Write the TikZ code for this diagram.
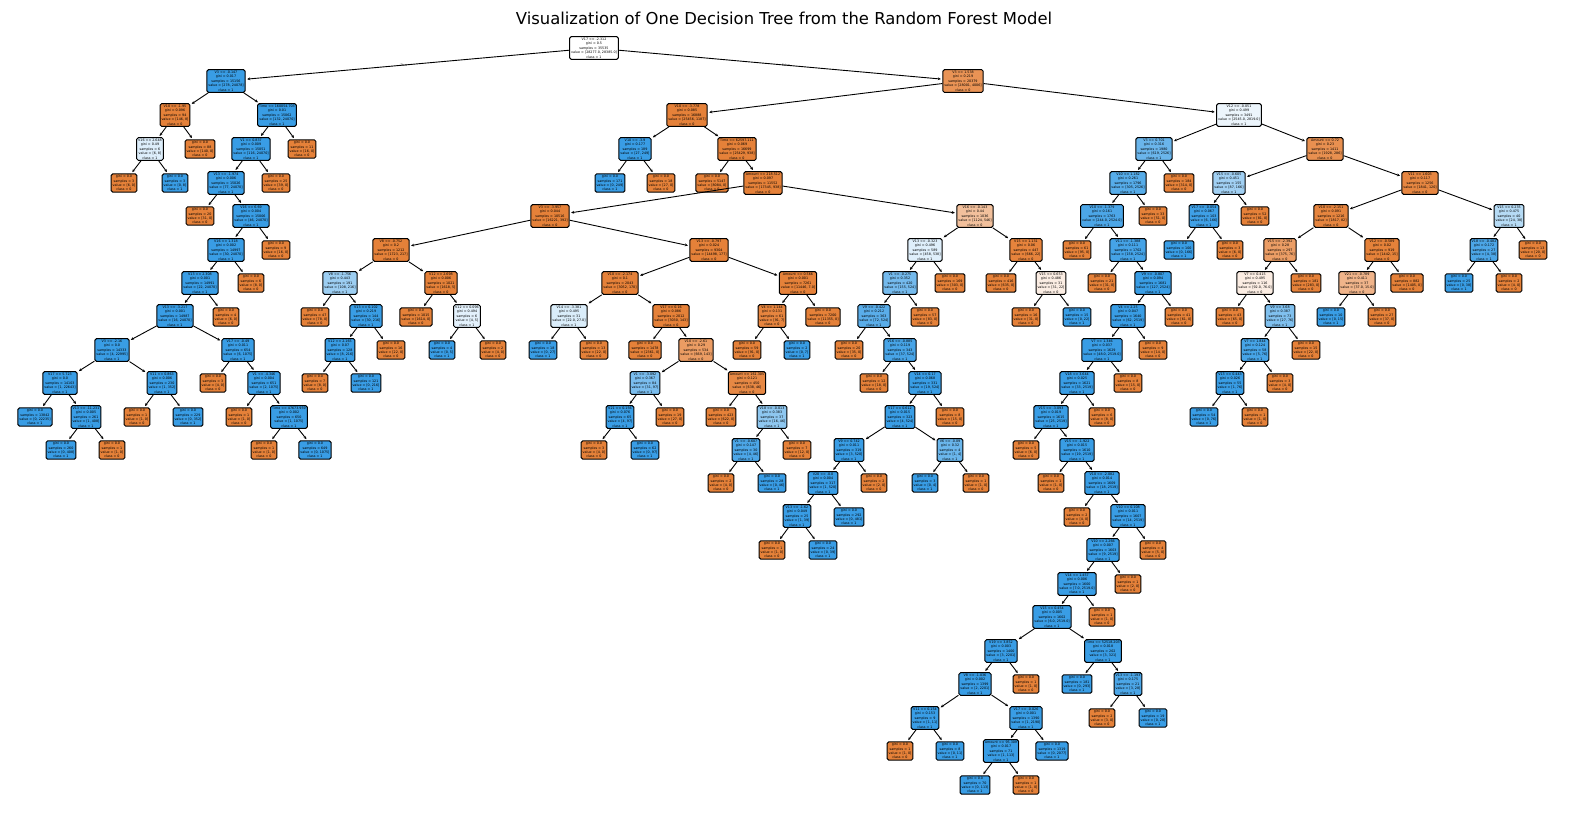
\documentclass[tikz,border=0pt]{standalone}
\usepackage{fontspec}
\usetikzlibrary{arrows.meta}
\newfontfamily\djv{DejaVu Sans}
\newcommand{\boxfont}{\djv\fontsize{3.3}{4.4}\selectfont}
\newcommand{\titlefont}{\djv\fontsize{16.4}{19}\selectfont}
\newcommand{\lv}[3]{gini = 0.0\\samples = #1\\value = [#2]\\class = #3}
\definecolor{c0}{HTML}{E58139}
\definecolor{c1}{HTML}{399DE5}
\tikzset{
  nd/.style={draw=black, line width=1pt, rounded corners=1.6pt, align=center,
    inner xsep=1.5pt, inner ysep=1.3pt, font=\boxfont, text=black},
  hx/.code={\definecolor{h#1}{HTML}{#1}\pgfkeysalso{fill=h#1}},
  edge/.style={-{Stealth[length=3pt,width=2.8pt]}, line width=0.9pt, shorten >=1.5pt},
  elab/.style={font=\boxfont, text=black!70}
}
\begin{document}
\begin{tikzpicture}[x=1pt,y=-1pt]
\useasboundingbox (0,0) rectangle (1570,812);
\node[font=\titlefont] (title) at (784,18) {Visualization of One Decision Tree from the Random Forest Model};

% root
\node[nd,fill=white] (r) at (594,48) {V17 <= -2.312\\gini = 0.5\\samples = 35535\\value = [28277.0, 28385.0]\\class = 1};
\node[elab] (tl) at (404,65) {True};
\node[elab] (fl) at (786,65) {False};

% level 1
\node[nd,fill=c1] (a) at (226,81) {V3 <= -0.147\\gini = 0.017\\samples = 15156\\value = [278, 24078]\\class = 1};
\node[nd,hx=E99355] (b) at (963,81) {V3 <= 1.538\\gini = 0.219\\samples = 20379\\value = [28001, 4006]\\class = 0};

% left subtree
\node[nd,fill=c0] (a1) at (175,115) {V10 <= -1.95\\gini = 0.096\\samples = 94\\value = [146, 8]\\class = 0};
\node[nd,hx=DDEEFB] (a11) at (150,149) {V16 <= 2.648\\gini = 0.49\\samples = 6\\value = [6, 8]\\class = 1};
\node[nd,fill=c0] (a111) at (124,183) {\lv{3}{6, 0}{0}};
\node[nd,fill=c1] (a112) at (175,183) {\lv{3}{0, 8}{1}};
\node[nd,fill=c0] (a12) at (200,149) {\lv{88}{140, 0}{0}};
\node[nd,fill=c1] (a2) at (277,115) {Time <= 160054.703\\gini = 0.01\\samples = 15062\\value = [132, 24070]\\class = 1};
\node[nd,fill=c1] (a21) at (251,149) {V1 <= 0.837\\gini = 0.009\\samples = 15051\\value = [116, 24070]\\class = 1};
\node[nd,fill=c0] (a22) at (302,149) {\lv{11}{16, 0}{0}};
\node[nd,fill=c1] (a211) at (226,183) {V13 <= -1.974\\gini = 0.006\\samples = 15026\\value = [77, 24070]\\class = 1};
\node[nd,fill=c0] (a212) at (276,183) {\lv{25}{39, 0}{0}};
\node[nd,fill=c0] (a2111) at (200,216) {\lv{20}{31, 0}{0}};
\node[nd,fill=c1] (a2112) at (251,216) {V16 <= 6.69\\gini = 0.004\\samples = 15006\\value = [46, 24070]\\class = 1};
\node[nd,fill=c1] (a3) at (226,250) {V16 <= 1.318\\gini = 0.002\\samples = 14997\\value = [30, 24070]\\class = 1};
\node[nd,fill=c0] (a3r) at (276,250) {\lv{9}{16, 0}{0}};
\node[nd,fill=c1] (a4) at (200,283) {V13 <= 2.308\\gini = 0.001\\samples = 14991\\value = [22, 24070]\\class = 1};
\node[nd,fill=c0] (a4r) at (251,283) {\lv{6}{8, 0}{0}};
\node[nd,fill=c1] (a5) at (175,316) {V13 <= -3.217\\gini = 0.001\\samples = 14987\\value = [16, 24070]\\class = 1};
\node[nd,fill=c0] (a5r) at (226,317) {\lv{4}{6, 0}{0}};
\node[nd,fill=c1] (a6) at (112,350) {V3 <= -2.16\\gini = 0.0\\samples = 14333\\value = [4, 22995]\\class = 1};
\node[nd,fill=c1] (a7) at (238,350) {V17 <= -0.49\\gini = 0.011\\samples = 654\\value = [6, 1075]\\class = 1};
\node[nd,fill=c1] (a61) at (60,383) {V17 <= 5.723\\gini = 0.0\\samples = 14103\\value = [1, 22643]\\class = 1};
\node[nd,fill=c1] (a62) at (162,383) {V11 <= 0.863\\gini = 0.006\\samples = 230\\value = [1, 352]\\class = 1};
\node[nd,fill=c1] (a611) at (35,417) {\lv{13842}{0, 22235}{1}};
\node[nd,fill=c1] (a612) at (86,417) {V13 <= -11.231\\gini = 0.005\\samples = 261\\value = [1, 408]\\class = 1};
\node[nd,fill=c1] (a6121) at (61,450) {\lv{260}{0, 408}{1}};
\node[nd,fill=c0] (a6122) at (112,450) {\lv{1}{1, 0}{0}};
\node[nd,fill=c0] (a621) at (137,417) {\lv{1}{1, 0}{0}};
\node[nd,fill=c1] (a622) at (188,417) {\lv{229}{0, 352}{1}};
\node[nd,fill=c0] (a71) at (213,383) {\lv{3}{4, 0}{0}};
\node[nd,fill=c1] (a72) at (264,383) {V1 <= -4.346\\gini = 0.004\\samples = 651\\value = [2, 1075]\\class = 1};
\node[nd,fill=c0] (a721) at (239,417) {\lv{1}{1, 0}{0}};
\node[nd,fill=c1] (a722) at (289,417) {Time <= 47673.959\\gini = 0.002\\samples = 650\\value = [1, 1075]\\class = 1};
\node[nd,fill=c0] (a7221) at (264,450) {\lv{1}{1, 0}{0}};
\node[nd,fill=c1] (a7222) at (315,450) {\lv{649}{0, 1075}{1}};

% right subtree
\node[nd,fill=c0] (g) at (687,115) {V10 <= -3.778\\gini = 0.085\\samples = 16888\\value = [25456, 1187]\\class = 0};
\node[nd,hx=ECF5FC] (h) at (1239,115) {V12 <= -0.051\\gini = 0.499\\samples = 3491\\value = [2545.0, 2819.0]\\class = 1};
\node[nd,fill=c1] (g1) at (635,149) {V10 <= -3.9\\gini = 0.177\\samples = 189\\value = [27, 249]\\class = 1};
\node[nd,fill=c1] (g11) at (610,183) {\lv{171}{0, 249}{1}};
\node[nd,fill=c0] (g12) at (661,183) {\lv{18}{27, 0}{0}};
\node[nd,fill=c0] (g2) at (737,149) {Time <= 62597.111\\gini = 0.069\\samples = 16699\\value = [25429, 938]\\class = 0};
\node[nd,fill=c0] (g21) at (712,183) {\lv{5147}{8084, 0}{0}};
\node[nd,fill=c0] (g22) at (763,183) {Amount <= 218.512\\gini = 0.097\\samples = 11552\\value = [17345, 938]\\class = 0};
\node[nd,fill=c0] (i) at (550,216) {V3 <= -3.957\\gini = 0.044\\samples = 10516\\value = [16221, 392]\\class = 0};
\node[nd,hx=F2C09C] (j) at (975,216) {V16 <= -0.143\\gini = 0.44\\samples = 1036\\value = [1124, 546]\\class = 0};
\node[nd,fill=c0] (i1) at (391,250) {V8 <= -0.752\\gini = 0.2\\samples = 1212\\value = [1723, 217]\\class = 0};
\node[nd,hx=9CCEF2] (i11) at (340,283) {V8 <= -1.756\\gini = 0.443\\samples = 191\\value = [108, 216]\\class = 1};
\node[nd,fill=c0] (i111) at (315,317) {\lv{47}{78, 0}{0}};
\node[nd,fill=c1] (i112) at (366,316) {V13 <= 0.102\\gini = 0.219\\samples = 144\\value = [30, 216]\\class = 1};
\node[nd,fill=c1] (i1121) at (340,350) {V12 <= 2.165\\gini = 0.07\\samples = 128\\value = [8, 216]\\class = 1};
\node[nd,fill=c0] (i1122) at (391,350) {\lv{16}{22, 0}{0}};
\node[nd,fill=c0] (i11211) at (315,383) {\lv{7}{8, 0}{0}};
\node[nd,fill=c1] (i11212) at (366,383) {\lv{121}{0, 216}{1}};
\node[nd,fill=c0] (i12) at (441,283) {V12 <= 2.698\\gini = 0.006\\samples = 1021\\value = [1618, 5]\\class = 0};
\node[nd,fill=c0] (i121) at (416,317) {\lv{1015}{1614, 0}{0}};
\node[nd,hx=E3F1FC] (i122) at (467,316) {V12 <= 0.096\\gini = 0.494\\samples = 6\\value = [4, 5]\\class = 1};
\node[nd,fill=c1] (i1221) at (442,350) {\lv{4}{0, 5}{1}};
\node[nd,fill=c0] (i1222) at (493,350) {\lv{2}{4, 0}{0}};
\node[nd,fill=c0] (i2) at (709,250) {V13 <= -0.797\\gini = 0.024\\samples = 9304\\value = [14498, 177]\\class = 0};
\node[nd,fill=c0] (i21) at (620,283) {V10 <= -2.174\\gini = 0.1\\samples = 2043\\value = [3052, 170]\\class = 0};
\node[nd,hx=DAEDFA] (i211) at (569,316) {V14 <= -3.381\\gini = 0.495\\samples = 31\\value = [22.0, 27.0]\\class = 1};
\node[nd,fill=c1] (i2111) at (543,350) {\lv{18}{0, 27}{1}};
\node[nd,fill=c0] (i2112) at (594,350) {\lv{13}{22, 0}{0}};
\node[nd,fill=c0] (i212) at (671,316) {V17 <= 0.16\\gini = 0.086\\samples = 2012\\value = [3030, 143]\\class = 0};
\node[nd,fill=c0] (i2121) at (645,350) {\lv{1478}{2361, 0}{0}};
\node[nd,hx=EB9C63] (i2122) at (696,350) {V10 <= -2.61\\gini = 0.29\\samples = 534\\value = [669, 143]\\class = 0};
\node[nd,hx=7ABDEE] (k) at (645,383) {V1 <= -3.092\\gini = 0.367\\samples = 84\\value = [31, 97]\\class = 1};
\node[nd,fill=c1] (k1) at (620,417) {V21 <= 0.156\\gini = 0.076\\samples = 65\\value = [4, 97]\\class = 1};
\node[nd,fill=c0] (k11) at (594,450) {\lv{3}{4, 0}{0}};
\node[nd,fill=c1] (k12) at (645,450) {\lv{62}{0, 97}{1}};
\node[nd,fill=c0] (k2) at (670,417) {\lv{19}{27, 0}{0}};
\node[nd,hx=E68844] (l) at (747,383) {Amount <= 161.305\\gini = 0.121\\samples = 450\\value = [638, 46]\\class = 0};
\node[nd,fill=c0] (l1) at (721,417) {\lv{423}{622, 0}{0}};
\node[nd,hx=8EC7F0] (l2) at (772,417) {V18 <= -0.013\\gini = 0.383\\samples = 37\\value = [16, 46]\\class = 1};
\node[nd,hx=4CA6E7] (l21) at (746,450) {V1 <= -0.607\\gini = 0.147\\samples = 30\\value = [4, 46]\\class = 1};
\node[nd,fill=c0] (l211) at (721,483) {\lv{2}{4, 0}{0}};
\node[nd,fill=c1] (l212) at (772,483) {\lv{28}{0, 46}{1}};
\node[nd,fill=c0] (l22) at (797,450) {\lv{7}{12, 0}{0}};
\node[nd,fill=c0] (i22) at (798,283) {Amount <= 0.566\\gini = 0.001\\samples = 7261\\value = [11446, 7.0]\\class = 0};
\node[nd,hx=E6853F] (i221) at (772,316) {V4 <= 1.144\\gini = 0.131\\samples = 61\\value = [91, 7]\\class = 0};
\node[nd,fill=c0] (i2211) at (747,350) {\lv{59}{91, 0}{0}};
\node[nd,fill=c1] (i2212) at (797,350) {\lv{2}{0, 7}{1}};
\node[nd,fill=c0] (i222) at (823,317) {\lv{7200}{11355, 0}{0}};

\node[nd,hx=DFEFFB] (j1) at (925,250) {V13 <= -0.323\\gini = 0.496\\samples = 589\\value = [458, 538]\\class = 1};
\node[nd,hx=74BAED] (j11) at (900,283) {V1 <= -0.275\\gini = 0.352\\samples = 420\\value = [155, 524]\\class = 1};
\node[nd,hx=5AADE9] (j111) at (874,316) {V9 <= -0.422\\gini = 0.212\\samples = 363\\value = [72, 524]\\class = 1};
\node[nd,fill=c0] (j1111) at (849,350) {\lv{20}{35, 0}{0}};
\node[nd,hx=47A4E7] (j1112) at (900,350) {V16 <= -0.885\\gini = 0.119\\samples = 343\\value = [37, 524]\\class = 1};
\node[nd,fill=c0] (j11121) at (874,383) {\lv{12}{18, 0}{0}};
\node[nd,fill=c1] (j11122) at (925,383) {V14 <= 0.17\\gini = 0.068\\samples = 331\\value = [19, 524]\\class = 1};
\node[nd,fill=c1] (m) at (900,417) {V17 <= 0.612\\gini = 0.015\\samples = 323\\value = [4, 524]\\class = 1};
\node[nd,fill=c1] (m1) at (849,450) {V9 <= 0.742\\gini = 0.011\\samples = 319\\value = [3, 520]\\class = 1};
\node[nd,fill=c1] (m11) at (823,483) {V20 <= -0.0\\gini = 0.004\\samples = 317\\value = [1, 520]\\class = 1};
\node[nd,fill=c1] (m111) at (797,516) {V13 <= -1.62\\gini = 0.049\\samples = 25\\value = [1, 39]\\class = 1};
\node[nd,fill=c0] (m1111) at (772,550) {\lv{1}{1, 0}{0}};
\node[nd,fill=c1] (m1112) at (823,550) {\lv{24}{0, 39}{1}};
\node[nd,fill=c1] (m112) at (849,517) {\lv{292}{0, 481}{1}};
\node[nd,fill=c0] (m12) at (874,483) {\lv{2}{2, 0}{0}};
\node[nd,hx=6AB6EC] (m2) at (950,450) {V6 <= -0.09\\gini = 0.32\\samples = 4\\value = [1, 4]\\class = 1};
\node[nd,fill=c1] (m21) at (925,483) {\lv{3}{0, 4}{1}};
\node[nd,fill=c0] (m22) at (976,483) {\lv{1}{1, 0}{0}};
\node[nd,fill=c0] (j11123) at (950,417) {\lv{8}{15, 0}{0}};
\node[nd,fill=c0] (j112) at (925,317) {\lv{57}{83, 0}{0}};
\node[nd,fill=c0] (j12) at (950,283) {\lv{169}{303, 0}{0}};
\node[nd,hx=E6833C] (j2) at (1026,250) {V15 <= 1.131\\gini = 0.06\\samples = 447\\value = [666, 22]\\class = 0};
\node[nd,fill=c0] (j21) at (1001,283) {\lv{416}{635, 0}{0}};
\node[nd,hx=FBEDE3] (j22) at (1051,283) {V15 <= 0.653\\gini = 0.486\\samples = 31\\value = [31, 22]\\class = 0};
\node[nd,fill=c0] (j221) at (1026,317) {\lv{16}{31, 0}{0}};
\node[nd,fill=c1] (j222) at (1077,317) {\lv{15}{0, 22}{1}};

% H subtree
\node[nd,hx=6AB5EB] (n) at (1154,149) {V3 <= 0.701\\gini = 0.316\\samples = 1980\\value = [619, 2526]\\class = 1};
\node[nd,fill=c0] (n2) at (1179,183) {\lv{184}{314, 0}{0}};
\node[nd,hx=56ACE9] (n1) at (1128,183) {V10 <= 1.182\\gini = 0.261\\samples = 1796\\value = [305, 2526]\\class = 1};
\node[nd,hx=4CA6E7] (n1a) at (1102,216) {V10 <= -1.379\\gini = 0.161\\samples = 1763\\value = [244.0, 2524.0]\\class = 1};
\node[nd,fill=c0] (n1b) at (1153,216) {\lv{33}{51, 0}{0}};
\node[nd,fill=c0] (n1a1) at (1077,250) {\lv{61}{95, 0}{0}};
\node[nd,hx=45A3E7] (n1a2) at (1128,250) {V11 <= -1.388\\gini = 0.111\\samples = 1702\\value = [158, 2524]\\class = 1};
\node[nd,fill=c0] (n1a21) at (1102,283) {\lv{21}{31, 0}{0}};
\node[nd,fill=c1] (n1a22) at (1153,283) {V9 <= -0.807\\gini = 0.094\\samples = 1681\\value = [127, 2524]\\class = 1};
\node[nd,fill=c1] (n1a221) at (1128,316) {V4 <= 2.25\\gini = 0.047\\samples = 1640\\value = [62, 2519]\\class = 1};
\node[nd,fill=c0] (n1a222) at (1179,317) {\lv{41}{61, 0}{0}};
\node[nd,fill=c1] (p) at (1102,350) {V7 <= 1.346\\gini = 0.037\\samples = 1629\\value = [48.0, 2519.0]\\class = 1};
\node[nd,fill=c0] (p2) at (1153,350) {\lv{9}{14, 0}{0}};
\node[nd,fill=c1] (q) at (1077,383) {V18 <= 3.644\\gini = 0.025\\samples = 1621\\value = [33, 2519]\\class = 1};
\node[nd,fill=c0] (q2) at (1128,383) {\lv{8}{15, 0}{0}};
\node[nd,fill=c1] (rr) at (1051,417) {V15 <= -3.093\\gini = 0.019\\samples = 1615\\value = [25, 2519]\\class = 1};
\node[nd,fill=c0] (rr2) at (1102,417) {\lv{6}{8, 0}{0}};
\node[nd,fill=c0] (s1) at (1026,450) {\lv{5}{6, 0}{0}};
\node[nd,fill=c1] (s) at (1077,450) {V15 <= -1.922\\gini = 0.015\\samples = 1610\\value = [19, 2519]\\class = 1};
\node[nd,fill=c0] (t1) at (1051,483) {\lv{1}{1, 0}{0}};
\node[nd,fill=c1] (t) at (1102,483) {V10 <= -2.082\\gini = 0.014\\samples = 1609\\value = [18, 2519]\\class = 1};
\node[nd,fill=c0] (u1x) at (1077,517) {\lv{2}{4, 0}{0}};
\node[nd,fill=c1] (u) at (1128,516) {V10 <= 0.108\\gini = 0.011\\samples = 1607\\value = [14, 2519]\\class = 1};
\node[nd,fill=c1] (u1) at (1103,550) {V10 <= 2.266\\gini = 0.007\\samples = 1603\\value = [9, 2519]\\class = 1};
\node[nd,fill=c0] (u2) at (1153,550) {\lv{4}{5, 0}{0}};
\node[nd,fill=c1] (u1a) at (1077,584) {V14 <= 1.457\\gini = 0.006\\samples = 1600\\value = [7.0, 2519.0]\\class = 1};
\node[nd,fill=c0] (u1b) at (1128,584) {\lv{1}{2, 0}{0}};
\node[nd,fill=c1] (u1a1) at (1052,617) {V15 <= 0.454\\gini = 0.005\\samples = 1602\\value = [6.0, 2519.0]\\class = 1};
\node[nd,fill=c0] (u1a2) at (1102,617) {\lv{1}{1, 0}{0}};
\node[nd,fill=c1] (v) at (1001,651) {V19 <= 3.852\\gini = 0.003\\samples = 1400\\value = [3, 2201]\\class = 1};
\node[nd,fill=c1] (w) at (1103,651) {Time <= 52518.203\\gini = 0.018\\samples = 202\\value = [3, 321]\\class = 1};
\node[nd,fill=c1] (v1) at (975,684) {V8 <= -1.036\\gini = 0.002\\samples = 1399\\value = [2, 2201]\\class = 1};
\node[nd,fill=c0] (v2) at (1026,684) {\lv{1}{1, 0}{0}};
\node[nd,fill=c1] (v1a) at (925,718) {V11 <= 0.154\\gini = 0.153\\samples = 9\\value = [1, 11]\\class = 1};
\node[nd,fill=c1] (v1b) at (1026,718) {V17 <= -0.026\\gini = 0.001\\samples = 1390\\value = [1, 2190]\\class = 1};
\node[nd,fill=c0] (v1a1) at (900,751) {\lv{1}{1, 0}{0}};
\node[nd,fill=c1] (v1a2) at (950,751) {\lv{8}{0, 11}{1}};
\node[nd,fill=c1] (v1b1) at (1001,751) {Amount <= 95.309\\gini = 0.017\\samples = 71\\value = [1, 113]\\class = 1};
\node[nd,fill=c1] (v1b2) at (1052,751) {\lv{1319}{0, 2077}{1}};
\node[nd,fill=c1] (v1b11) at (975,785) {\lv{70}{0, 113}{1}};
\node[nd,fill=c0] (v1b12) at (1026,785) {\lv{1}{1, 0}{0}};
\node[nd,fill=c1] (w1) at (1077,684) {\lv{181}{0, 293}{1}};
\node[nd,hx=4CA6E7] (w2) at (1128,684) {V13 <= -1.193\\gini = 0.175\\samples = 21\\value = [3, 28]\\class = 1};
\node[nd,fill=c0] (w21) at (1102,718) {\lv{2}{3, 0}{0}};
\node[nd,fill=c1] (w22) at (1153,718) {\lv{19}{0, 28}{1}};

% O subtree
\node[nd,hx=E89050] (o) at (1325,149) {Amount <= 0.72\\gini = 0.23\\samples = 1411\\value = [1928, 286]\\class = 0};
\node[nd,hx=A1D0F3] (o1) at (1229,183) {V15 <= -0.605\\gini = 0.451\\samples = 155\\value = [87, 166]\\class = 1};
\node[nd,hx=3FA0E6] (o11) at (1204,216) {V17 <= -0.054\\gini = 0.067\\samples = 103\\value = [6, 166]\\class = 1};
\node[nd,fill=c1] (o111) at (1179,250) {\lv{100}{0, 166}{1}};
\node[nd,fill=c0] (o112) at (1230,250) {\lv{3}{6, 0}{0}};
\node[nd,fill=c0] (o12) at (1255,216) {\lv{52}{81, 0}{0}};
\node[nd,hx=E68641] (o2) at (1420,183) {V11 <= 1.603\\gini = 0.117\\samples = 1256\\value = [1841, 120]\\class = 0};
\node[nd,hx=E6853F] (o21) at (1331,216) {V10 <= -2.151\\gini = 0.091\\samples = 1216\\value = [1817, 82]\\class = 0};
\node[nd,hx=B6DBF5] (o22) at (1509,216) {V15 <= 0.235\\gini = 0.475\\samples = 40\\value = [24, 38]\\class = 1};
\node[nd,hx=EB9D65] (o211) at (1280,250) {V15 <= -2.392\\gini = 0.28\\samples = 297\\value = [375, 76]\\class = 0};
\node[nd,hx=E5823A] (o212) at (1382,250) {V12 <= -0.589\\gini = 0.02\\samples = 919\\value = [1442, 15]\\class = 0};
\node[nd,hx=FBEDE3] (o2111) at (1255,283) {V7 <= 0.415\\gini = 0.495\\samples = 116\\value = [92.0, 76.0]\\class = 0};
\node[nd,fill=c0] (o2112) at (1306,283) {\lv{181}{283, 0}{0}};
\node[nd,fill=c0] (o21111) at (1230,317) {\lv{43}{65, 0}{0}};
\node[nd,hx=80C0EE] (x) at (1280,316) {V9 <= 3.68\\gini = 0.387\\samples = 73\\value = [27, 76]\\class = 1};
\node[nd,hx=46A4E7] (x1) at (1255,350) {V7 <= 1.844\\gini = 0.124\\samples = 58\\value = [5, 76]\\class = 1};
\node[nd,fill=c0] (x2) at (1306,350) {\lv{15}{22, 0}{0}};
\node[nd,fill=c1] (x1a) at (1230,383) {V13 <= 0.443\\gini = 0.026\\samples = 55\\value = [1, 76]\\class = 1};
\node[nd,fill=c0] (x1b) at (1280,383) {\lv{3}{4, 0}{0}};
\node[nd,fill=c1] (x1a1) at (1204,417) {\lv{54}{0, 76}{1}};
\node[nd,fill=c0] (x1a2) at (1255,417) {\lv{1}{1, 0}{0}};
\node[nd,hx=F0B48A] (o2121) at (1357,283) {V21 <= -0.789\\gini = 0.411\\samples = 37\\value = [37.0, 15.0]\\class = 0};
\node[nd,fill=c0] (o2122) at (1407,283) {\lv{882}{1405, 0}{0}};
\node[nd,fill=c1] (o21211) at (1331,317) {\lv{10}{0, 15}{1}};
\node[nd,fill=c0] (o21212) at (1382,317) {\lv{27}{37, 0}{0}};
\node[nd,hx=4CA6E7] (o221) at (1484,250) {V18 <= -0.482\\gini = 0.172\\samples = 27\\value = [4, 38]\\class = 1};
\node[nd,fill=c0] (o222) at (1533,250) {\lv{13}{20, 0}{0}};
\node[nd,fill=c1] (o2211) at (1459,283) {\lv{25}{0, 38}{1}};
\node[nd,fill=c0] (o2212) at (1509,283) {\lv{2}{4, 0}{0}};

% edges
\foreach \p/\c in {r/a, r/b,
  a/a1, a/a2, a1/a11, a1/a12, a11/a111, a11/a112,
  a2/a21, a2/a22, a21/a211, a21/a212, a211/a2111, a211/a2112, a2112/a3, a2112/a3r,
  a3/a4, a3/a4r, a4/a5, a4/a5r, a5/a6, a5/a7, a6/a61, a6/a62, a61/a611, a61/a612,
  a612/a6121, a612/a6122, a62/a621, a62/a622, a7/a71, a7/a72, a72/a721, a72/a722,
  a722/a7221, a722/a7222,
  b/g, b/h, g/g1, g/g2, g1/g11, g1/g12, g2/g21, g2/g22, g22/i, g22/j,
  i/i1, i/i2, i1/i11, i1/i12, i11/i111, i11/i112, i112/i1121, i112/i1122,
  i1121/i11211, i1121/i11212, i12/i121, i12/i122, i122/i1221, i122/i1222,
  i2/i21, i2/i22, i21/i211, i21/i212, i211/i2111, i211/i2112, i212/i2121, i212/i2122,
  i2122/k, i2122/l, k/k1, k/k2, k1/k11, k1/k12, l/l1, l/l2, l2/l21, l2/l22,
  l21/l211, l21/l212, i22/i221, i22/i222, i221/i2211, i221/i2212,
  j/j1, j/j2, j1/j11, j1/j12, j11/j111, j11/j112, j111/j1111, j111/j1112,
  j1112/j11121, j1112/j11122, j11122/m, j11122/j11123, m/m1, m/m2, m1/m11, m1/m12,
  m11/m111, m11/m112, m111/m1111, m111/m1112, m2/m21, m2/m22,
  j2/j21, j2/j22, j22/j221, j22/j222,
  h/n, h/o, n/n1, n/n2, n1/n1a, n1/n1b, n1a/n1a1, n1a/n1a2, n1a2/n1a21, n1a2/n1a22,
  n1a22/n1a221, n1a22/n1a222, n1a221/p, n1a221/p2, p/q, p/q2, q/rr, q/rr2,
  rr/s1, rr/s, s/t1, s/t, t/u1x, t/u, u/u1, u/u2, u1/u1a, u1/u1b, u1a/u1a1, u1a/u1a2,
  u1a1/v, u1a1/w, v/v1, v/v2, v1/v1a, v1/v1b, v1a/v1a1, v1a/v1a2, v1b/v1b1, v1b/v1b2,
  v1b1/v1b11, v1b1/v1b12, w/w1, w/w2, w2/w21, w2/w22,
  o/o1, o/o2, o1/o11, o1/o12, o11/o111, o11/o112, o2/o21, o2/o22, o21/o211, o21/o212,
  o211/o2111, o211/o2112, o2111/o21111, o2111/x, x/x1, x/x2, x1/x1a, x1/x1b,
  x1a/x1a1, x1a/x1a2, o212/o2121, o212/o2122, o2121/o21211, o2121/o21212,
  o22/o221, o22/o222, o221/o2211, o221/o2212}
  \draw[edge] (\p) -- (\c);
\end{tikzpicture}
\end{document}
